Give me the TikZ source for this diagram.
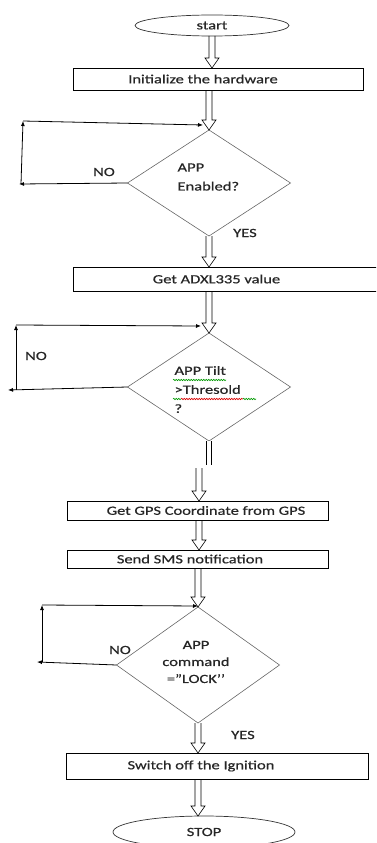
\documentclass[tikz,border=0pt]{standalone}
\usepackage{fontspec}
\setmainfont[FakeStretch=1.32, FakeBold=0.6]{Carlito}
\usetikzlibrary{shapes,arrows.meta,calc,decorations.pathmorphing}

\tikzset{
  box/.style={draw, line width=0.8pt, inner sep=0pt, outer sep=0pt},
  decision/.style={draw=black!60, diamond, line width=0.6pt, inner sep=0pt, outer sep=0pt},
  terminal/.style={draw=black!80, ellipse, line width=0.7pt, inner sep=0pt, outer sep=0pt},
  flow/.style={line width=0.6pt, to path={let \p1=(\tikztostart), \p2=(\tikztotarget) in
    (\x1-3pt,\y1) -- (\x1-3pt,\y2+10pt) -- (\x1-7pt,\y2+10pt) -- (\x1,\y2)
    -- (\x1+7pt,\y2+10pt) -- (\x1+3pt,\y2+10pt) -- (\x1+3pt,\y1)}},
  stub/.style={double, double distance=4.5pt, line width=0.6pt},
  back/.style={line width=0.8pt, -{Latex[length=5pt,width=4pt]}},
  spell/.style={line width=0.6pt, decorate, decoration={snake, amplitude=0.7pt, segment length=2.5pt}}
}

\begin{document}
\begin{tikzpicture}[x=1pt, y=-1pt, font=\fontsize{12.5}{19}\selectfont, text=black!85]
    \useasboundingbox (0,0) rectangle (376,843);
    \clip (0,0) rectangle (376,843);

    % Steps
    \node[terminal, minimum width=154pt, minimum height=21pt] (start) at (212,25.5) {start};
    \node[box, minimum width=290pt, minimum height=22pt, label={[xshift=-15pt]center:Initialize the hardware}] (init) at (218,79) {};
    \node[box, minimum width=327pt, minimum height=24pt, label={[xshift=-20pt]center:Get ADXL335 value}] (adxl) at (236.5,279) {};
    \node[box, minimum width=261pt, minimum height=19pt, label={[xshift=8.5pt]center:Get GPS Coordinate from GPS}] (gps) at (197.5,510.5) {};
    \node[box, minimum width=261pt, minimum height=18pt, label={[xshift=-7.5pt]center:Send SMS notification}] (sms) at (197.5,559) {};
    \node[box, minimum width=302pt, minimum height=26pt, label={[xshift=-16pt]center:Switch off the Ignition}] (ignition) at (217,766) {};
    \node[terminal, minimum width=182pt, minimum height=32pt] (stop) at (204,832) {STOP};

    % Decisions
    \node[decision, minimum width=163pt, minimum height=106pt] (enabled) at (209,183) {};
    \node[align=left, anchor=west] (enabledtxt) at (174,177) {APP\\Enabled?};
    \node[decision, minimum width=163pt, minimum height=108pt] (tilt) at (209,387) {};
    \node[align=left, anchor=west] (tilttxt) at (171,389.5) {APP Tilt\\>Thresold\\?};
    \node[decision, minimum width=163pt, minimum height=116pt] (lock) at (198,665) {};
    \node[align=center, font=\fontsize{12.5}{17}\selectfont] (locktxt) at (196,662) {APP\\command\\=”LOCK’’};

    % spell-check marks
    \draw[spell, green!60!black] (173,380) -- (226,380);
    \draw[spell, green!60!black] (173,399) -- (181,399);
    \draw[spell, red!85!black] (181,399) -- (243,399);
    \draw[spell, green!60!black] (243,399) -- (256,399);

    % Main flow
    \draw[flow] (start.south) to (init.north -| start.south);
    \draw[flow] (init.south -| enabled.north) to (enabled.north);
    \draw[flow] (enabled.south) to (adxl.north -| enabled.south);
    \draw[flow] (adxl.south -| tilt.north) to (tilt.north);
    \coordinate (gap1) at (209,465);
    \coordinate (gap2) at (199,468);
    \draw[stub] (tilt.south) -- (gap1);
    \draw[flow] (gap2) to (gps.north -| gap2);
    \draw[flow] (gps.south -| gap2) to (sms.north -| gap2);
    \draw[flow] (sms.south -| lock.north) to (lock.north);
    \draw[flow] (lock.south) to (ignition.north -| lock.south);
    \draw[flow] (ignition.south -| lock.south) to (stop.north -| lock.south);

    % NO loops
    \coordinate (no1a) at (19,184);
    \coordinate (no1b) at (21,184);
    \coordinate (no1c) at (23,121);
    \coordinate (no1d) at (203,125);
    \draw[back] (enabled.west) -- (no1a);
    \draw[back] (no1b) -- (no1c);
    \draw[back] (no1c) -- (no1d);

    \coordinate (no2a) at (8,390);
    \coordinate (no2b) at (16,390);
    \coordinate (no2c) at (16,325);
    \coordinate (no2d) at (201,326);
    \draw[back] (tilt.west) -- (no2a);
    \draw[back] (no2b) -- (no2c);
    \draw[back] (no2c) -- (no2d);

    \coordinate (no3a) at (37,662);
    \coordinate (no3b) at (42,662);
    \coordinate (no3c) at (42,605);
    \coordinate (no3d) at (198,606);
    \draw[back] (lock.west) -- (no3a);
    \draw[back] (no3b) -- (no3c);
    \draw[back] (no3c) -- (no3d);

    % Labels
    \node (no1) at (104,172) {NO};
    \node (yes1) at (245,233) {YES};
    \node (no2) at (36,356) {NO};
    \node (no3) at (120,650) {NO};
    \node (yes3) at (243,735) {YES};
\end{tikzpicture}
\end{document}
